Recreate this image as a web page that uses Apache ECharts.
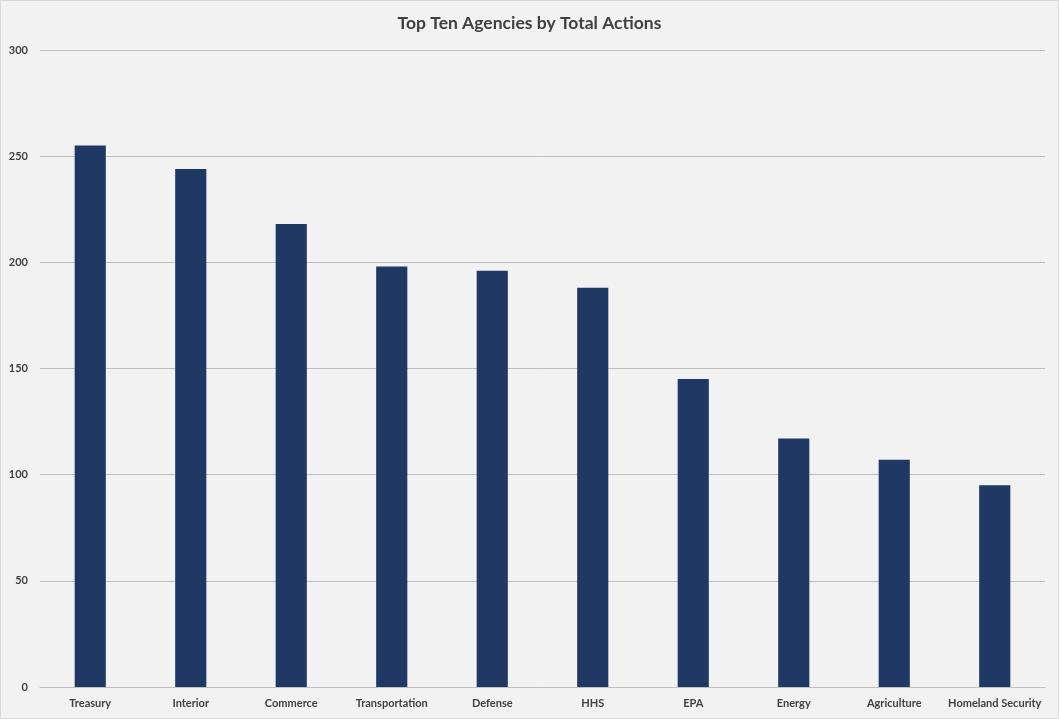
<!DOCTYPE html>
<html><head><meta charset="utf-8">
<script src="https://cdn.jsdelivr.net/npm/echarts@6/dist/echarts.min.js"></script>
<style>html,body{margin:0;padding:0;background:#f2f2f2;}#c{width:1059px;height:719px;box-sizing:border-box;border:1px solid #d9d9d9;}</style>
</head><body><div id="c"></div>
<script>
const categories = ["Treasury","Interior","Commerce","Transportation","Defense","HHS","EPA","Energy","Agriculture","Homeland Security"];
const values = [255,244,218,198,196,188,145,117,107,95];
const chart = echarts.init(document.getElementById('c'));
chart.setOption({
  backgroundColor:'#f2f2f2',
  animation:false,
  title:{text:'Top Ten Agencies by Total Actions',left:'center',top:8,textStyle:{fontFamily:'Lato',fontSize:17.5,fontWeight:'bold',color:'#404040'}},
  grid:{left:39,right:13,top:49,bottom:31},
  xAxis:{type:'category',data:categories,axisTick:{show:false},axisLine:{lineStyle:{color:'#bfbfbf'}},
    axisLabel:{fontFamily:'Lato',fontSize:11,fontWeight:'bold',color:'#404040',margin:11,interval:0}},
  yAxis:{type:'value',min:0,max:300,interval:50,axisLine:{show:false},axisTick:{show:false},
    splitLine:{lineStyle:{color:'#bfbfbf'}},
    axisLabel:{fontFamily:'Lato',fontSize:11,fontWeight:'bold',color:'#404040',margin:12}},
  series:[{type:'bar',data:values,barWidth:'31%',itemStyle:{color:'#203864'}}]
});
</script></body></html>
